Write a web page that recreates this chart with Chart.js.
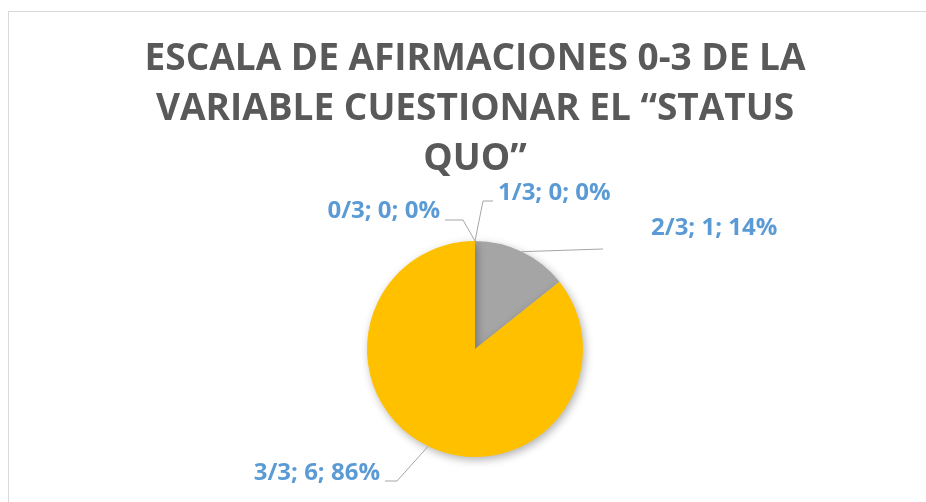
<!DOCTYPE html>
<html lang="es">
<head>
  <meta charset="UTF-8">
  <title>Escala de afirmaciones 0-3</title>
  <script src="https://cdn.jsdelivr.net/npm/chart.js"></script>
  <style>
    html, body {
      margin: 0;
      padding: 0;
      background: #ffffff;
    }
    #wrap {
      width: 926px;
      height: 502px;
    }
  </style>
</head>
<body>
  <div id="wrap"><canvas id="pie"></canvas></div>

  <script>
    const categories = ['0/3', '1/3', '2/3', '3/3'];
    const counts = [0, 0, 1, 6];
    const titleLines = [
      'ESCALA DE AFIRMACIONES 0-3 DE LA',
      'VARIABLE CUESTIONAR EL \u201CSTATUS',
      'QUO\u201D'
    ];
    const sliceColors = ['#5B9BD5', '#ED7D31', '#A5A5A5', '#FFC000'];

    // label placement, px relative to the pie centre
    const labelSpots = [
      { elbow: [-12, -129], end: [-30, -129], text: [-35, -138], align: 'right' },
      { elbow: [8, -148], end: [18, -148], text: [23, -156], align: 'left' },
      { elbow: null, end: [128, -100], text: [176, -121], align: 'left' },
      { elbow: [-78, 132], end: [-90, 132], text: [-95, 124], align: 'right' }
    ];

    const frame = {
      id: 'frame',
      beforeDraw(chart) {
        const ctx = chart.ctx;
        ctx.save();
        ctx.strokeStyle = '#d9d9d9';
        ctx.lineWidth = 1;
        ctx.strokeRect(8.5, 11.5, 1200, 1200);
        ctx.restore();
      }
    };

    const shadow = {
      id: 'shadow',
      beforeDatasetsDraw(chart) {
        const ctx = chart.ctx;
        ctx.save();
        ctx.shadowColor = 'rgba(0,0,0,0.3)';
        ctx.shadowBlur = 9;
        ctx.shadowOffsetX = 2;
        ctx.shadowOffsetY = 3;
      },
      afterDatasetsDraw(chart) {
        chart.ctx.restore();
      }
    };

    const pieLabels = {
      id: 'pieLabels',
      afterDraw(chart) {
        const ctx = chart.ctx;
        const meta = chart.getDatasetMeta(0);
        const total = counts.reduce((a, b) => a + b, 0);
        meta.data.forEach((arc, i) => {
          const p = arc.getProps(['x', 'y', 'outerRadius', 'startAngle', 'endAngle'], true);
          const mid = (p.startAngle + p.endAngle) / 2;
          const ex = p.x + Math.cos(mid) * p.outerRadius;
          const ey = p.y + Math.sin(mid) * p.outerRadius;
          const s = labelSpots[i];
          ctx.save();
          ctx.strokeStyle = '#a6a6a6';
          ctx.lineWidth = 1;
          ctx.beginPath();
          ctx.moveTo(ex, ey);
          if (s.elbow) ctx.lineTo(p.x + s.elbow[0], p.y + s.elbow[1]);
          ctx.lineTo(p.x + s.end[0], p.y + s.end[1]);
          ctx.stroke();
          const pct = Math.round(counts[i] / total * 100);
          ctx.fillStyle = '#5B9BD5';
          ctx.font = 'bold 24px "Open Sans"';
          ctx.textAlign = s.align;
          ctx.textBaseline = 'middle';
          ctx.fillText(categories[i] + '; ' + counts[i] + '; ' + pct + '%', p.x + s.text[0], p.y + s.text[1]);
          ctx.restore();
        });
      }
    };

    const ctx = document.getElementById('pie').getContext('2d');
    const chart = new Chart(ctx, {
      type: 'pie',
      data: {
        labels: categories,
        datasets: [{
          data: counts,
          backgroundColor: sliceColors,
          borderWidth: 0,
          hoverOffset: 0
        }]
      },
      options: {
        responsive: true,
        maintainAspectRatio: false,
        animation: false,
        events: [],
        layout: {
          padding: { top: 0, left: 24, right: 0, bottom: 45 }
        },
        plugins: {
          legend: { display: false },
          tooltip: { enabled: false },
          title: {
            display: true,
            text: titleLines,
            color: '#595959',
            font: { family: 'Open Sans', size: 37, weight: 'bold', lineHeight: 50 / 37 },
            padding: { top: 34, bottom: 57 }
          }
        }
      },
      plugins: [frame, shadow, pieLabels]
    });
  </script>
</body>
</html>
